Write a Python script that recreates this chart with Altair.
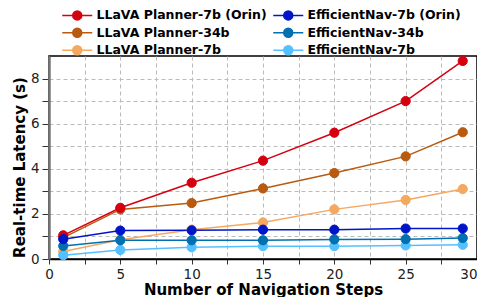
import altair as alt
import pandas as pd

steps = [1, 5, 10, 15, 20, 25, 29]
llava_7b_orin = [1.05, 2.27, 3.38, 4.36, 5.6, 7.0, 8.78]
llava_34b = [0.95, 2.2, 2.48, 3.13, 3.81, 4.55, 5.62]
llava_7b = [0.33, 0.85, 1.3, 1.62, 2.2, 2.62, 3.1]
effnav_7b_orin = [0.88, 1.26, 1.27, 1.3, 1.3, 1.35, 1.35]
effnav_34b = [0.58, 0.83, 0.83, 0.83, 0.87, 0.88, 0.93]
effnav_7b = [0.17, 0.4, 0.52, 0.57, 0.57, 0.6, 0.63]

names = ["LLaVA Planner-7b (Orin)", "LLaVA Planner-34b", "LLaVA Planner-7b",
         "EfficientNav-7b (Orin)", "EfficientNav-34b", "EfficientNav-7b"]
colors = ["#d40010", "#b85a10", "#f5a860", "#0015c8", "#0070b0", "#55c0ff"]

series = [
    ("LLaVA Planner-7b", llava_7b),
    ("LLaVA Planner-34b", llava_34b),
    ("LLaVA Planner-7b (Orin)", llava_7b_orin),
    ("EfficientNav-7b", effnav_7b),
    ("EfficientNav-34b", effnav_34b),
    ("EfficientNav-7b (Orin)", effnav_7b_orin),
]
rows = []
for order, (name, vals) in enumerate(series):
    for s, v in zip(steps, vals):
        rows.append({"step": s, "latency": v, "series": name, "order": order})
df = pd.DataFrame(rows)

font = "DejaVu Sans"
sym_path = "M-3,0H3M-0.9,0A0.9,0.9,0,1,1,0.9,0A0.9,0.9,0,1,1,-0.9,0Z"

xvals = [i * 2.5 for i in range(13)]
yvals = list(range(0, 9))

x = alt.X("step:Q", scale=alt.Scale(domain=[0, 30], nice=False),
          axis=alt.Axis(values=xvals, labelExpr="datum.value % 5 == 0 ? datum.label : ''",
                        title="Number of Navigation Steps", labelFlush=False,
                        labelAlign={"condition": {"test": "datum.value >= 30", "value": "right"},
                                    "value": "center"},
                        tickSize=5, labelPadding=3.5,
                        titleBaseline="alphabetic", titleY=35))
y = alt.Y("latency:Q", scale=alt.Scale(domain=[0, 9], nice=False),
          axis=alt.Axis(values=yvals, labelExpr="datum.value % 2 == 0 ? datum.label : ''",
                        title="Real-time Latency (s)", labelFlush=False,
                        tickSize=7, labelPadding=3,
                        titleBaseline="alphabetic", titleX=-25, titleY=111, titleAlign="center",
                        domainColor="#777", domainWidth=2.5))

cscale = alt.Scale(domain=names, range=colors)

legend = alt.Legend(title=None, orient="none", legendX=12, legendY=-47, columns=2,
                    symbolType=sym_path, symbolSize=100, symbolStrokeWidth=1.5,
                    symbolOffset=10, labelLimit=400,
                    labelFont=font, labelFontSize=12.5, labelFontWeight="bold",
                    labelColor="#000", columnPadding=3, rowPadding=1.5, labelOffset=13,
                    padding=0)

lines = alt.Chart(df).mark_line(strokeWidth=1.5).encode(
    x=x, y=y,
    stroke=alt.Stroke("series:N", scale=cscale, legend=legend),
    order=alt.Order("step:Q"),
)

points = alt.Chart(df).mark_point(filled=True, size=85, strokeWidth=1, opacity=1).encode(
    x=x, y=y,
    fill=alt.Fill("series:N", scale=cscale, legend=legend),
    stroke=alt.Stroke("series:N", scale=cscale, legend=legend),
)

chart = alt.layer(lines, points).properties(
    width=428, height=203,
    autosize=alt.AutoSizeParams(type="none"),
    padding={"left": 41, "top": 48, "right": 0, "bottom": 38},
).configure_view(stroke="#000", strokeWidth=1.5).configure_axis(
    labelFont=font, labelFontSize=13.5, labelColor="#222",
    titleFont=font, titleFontSize=15, titleFontWeight="bold", titleColor="#000",
    grid=True, gridColor="#bbbbbb", gridDash=[4, 3], gridWidth=1,
    tickColor="#333",
    domainColor="#000", domainWidth=1.5,
)

chart.save("out.html", embed_options={"renderer": "svg", "actions": False})
